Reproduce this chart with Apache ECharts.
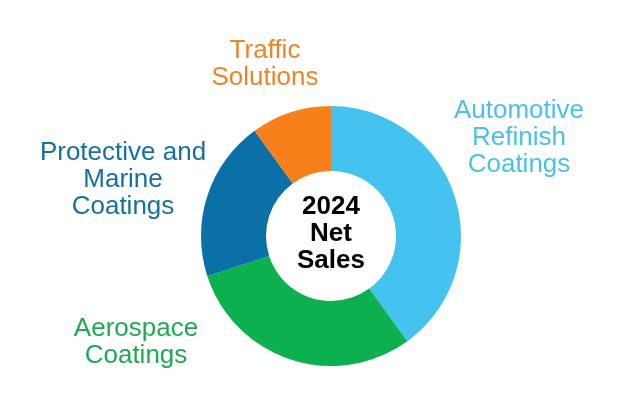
<!DOCTYPE html>
<html>
<head>
<meta charset="utf-8">
<script src="https://cdn.jsdelivr.net/npm/echarts@6/dist/echarts.min.js"></script>
<style>
  html, body { margin: 0; padding: 0; background: #fff; }
  #chart { width: 640px; height: 398px; }
</style>
</head>
<body>
<div id="chart"></div>
<script>
// segment names, shares and colours
const categories = ["Automotive\nRefinish\nCoatings", "Aerospace\nCoatings", "Protective and\nMarine\nCoatings", "Traffic\nSolutions"];
const shares = [40, 30, 20, 10];
const sliceColors = ["#45C3F0", "#0DB04E", "#0A70A6", "#F8801A"];
const labelColors = ["#4BC0E8", "#1EAA52", "#1670A0", "#EE8428"];
const centerText = "2024\nNet\nSales";

// where each outside label sits (centre of the text block)
const labelPos = [[519, 138], [136, 342], [123, 180], [265, 64]];

const chart = echarts.init(document.getElementById("chart"));

chart.setOption({
  animation: false,
  series: [
    {
      type: "pie",
      center: [331, 236],
      radius: [65, 130],
      startAngle: 90,
      clockwise: true,
      silent: true,
      label: { show: false },
      labelLine: { show: false },
      itemStyle: { borderWidth: 0 },
      data: categories.map((name, i) => ({
        name: name,
        value: shares[i],
        itemStyle: { color: sliceColors[i] },
      })),
    },
  ],
  graphic: categories
    .map((name, i) => ({
      type: "text",
      x: labelPos[i][0],
      y: labelPos[i][1],
      style: {
        text: name,
        fill: labelColors[i],
        font: "26px 'Liberation Sans', Arial, sans-serif",
        lineHeight: 27,
        align: "center",
        verticalAlign: "middle",
      },
    }))
    .concat([
      {
        type: "text",
        x: 331,
        y: 234,
        style: {
          text: centerText,
          fill: "#000",
          font: "bold 26px 'Liberation Sans', Arial, sans-serif",
          lineHeight: 27,
          align: "center",
          verticalAlign: "middle",
        },
      },
    ]),
});
</script>
</body>
</html>
